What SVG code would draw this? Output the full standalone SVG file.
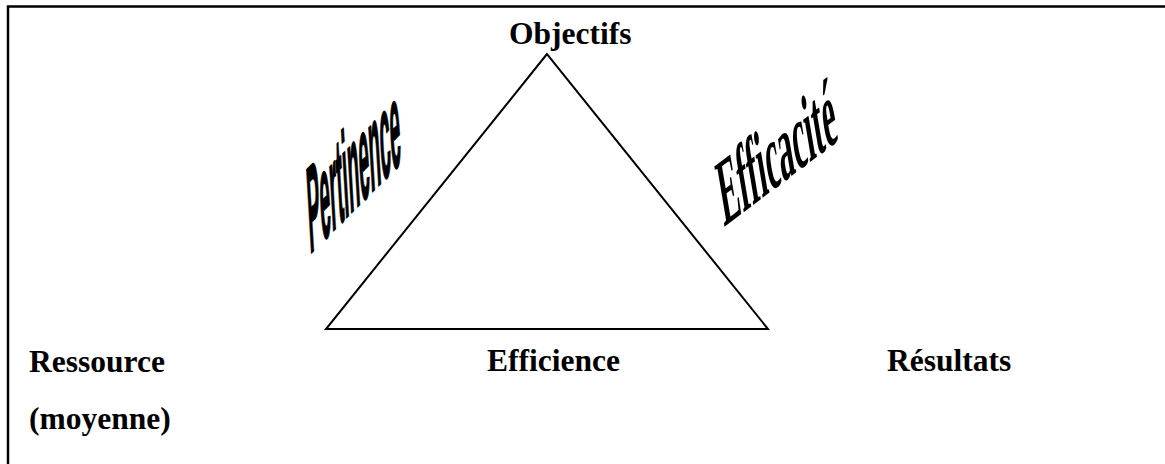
<svg xmlns="http://www.w3.org/2000/svg" width="1165" height="464" viewBox="0 0 1165 464">
<style>
.lbl{font-family:"Liberation Serif","Times New Roman",serif;font-weight:bold;font-size:31.5px;fill:#000}
.edge{fill:none;stroke:#000;stroke-width:2}
.wa1{font-family:"Liberation Sans",Arial,sans-serif;font-weight:bold;font-size:100px;fill:#000;stroke:#000;stroke-width:2}
.wa2{font-family:"Liberation Serif","Times New Roman",serif;font-weight:bold;font-size:100px;fill:#000}
</style>
<rect width="1165" height="464" fill="#fff"/>
<g id="frame"><path d="M8,470 V6.5 H1170" fill="none" stroke="#000" stroke-width="2.5"/></g>
<g id="connectors">
<path class="edge" d="M547,54 L326,329 L768,329 Z" stroke-linejoin="miter"/>
</g>
<g id="objectifs"><text class="lbl" x="509" y="44">Objectifs</text></g>
<g id="ressource"><text class="lbl" x="29" y="372">Ressource</text><text class="lbl" x="29" y="429">(moyenne)</text></g>
<g id="efficience"><text class="lbl" x="487" y="371">Efficience</text></g>
<g id="resultats"><text class="lbl" x="887" y="371">Résultats</text></g>
<g id="pertinence"><text class="wa1" transform="matrix(0.18,-0.18,0.07,1.2,310,254)" x="0" y="0">Pertinence</text></g>
<g id="efficacite"><text class="wa2" transform="matrix(0.285,-0.215,0.155,0.92,724,227)" x="0" y="0">Efficacité</text></g>
</svg>
